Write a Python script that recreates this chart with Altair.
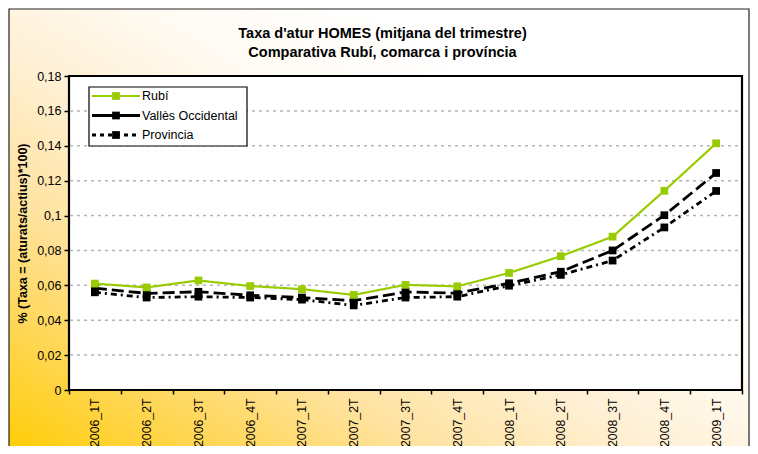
import altair as alt
import pandas as pd

quarters = ["2006_1T", "2006_2T", "2006_3T", "2006_4T", "2007_1T", "2007_2T", "2007_3T",
            "2007_4T", "2008_1T", "2008_2T", "2008_3T", "2008_4T", "2009_1T"]
rubi = [0.0610, 0.0588, 0.0628, 0.0596, 0.0578, 0.0545, 0.0603, 0.0594, 0.0671, 0.0767, 0.0879, 0.1142, 0.1414]
valles = [0.0584, 0.0554, 0.0563, 0.0543, 0.0530, 0.0512, 0.0562, 0.0555, 0.0612, 0.0678, 0.0800, 0.1002, 0.1244]
provincia = [0.0560, 0.0530, 0.0535, 0.0530, 0.0518, 0.0485, 0.0530, 0.0535, 0.0598, 0.0660, 0.0742, 0.0932, 0.1141]
series_names = ["Rubí", "Vallès Occidental", "Provincia"]
y_ticks = [0, 0.02, 0.04, 0.06, 0.08, 0.1, 0.12, 0.14, 0.16, 0.18]
grid_vals = [0.02, 0.04, 0.06, 0.08, 0.1, 0.12, 0.14, 0.16]
title_lines = ["Taxa d'atur HOMES (mitjana del trimestre)", "Comparativa Rubí, comarca i província"]
y_title = "% (Taxa = (aturats/actius)*100)"

W, H = 673, 314
FONT = "Arial, Liberation Sans, sans-serif"

styles = {
    "Rubí": dict(color="#99CC00", width=2.2, dash=[1, 0], ldash=[1, 0]),
    "Vallès Occidental": dict(color="#000000", width=2.8, dash=[12, 5], ldash=[1, 0]),
    "Provincia": dict(color="#000000", width=2.8, dash=[6, 4, 2, 4], ldash=[4, 4]),
}
values = {"Rubí": rubi, "Vallès Occidental": valles, "Provincia": provincia}

one = pd.DataFrame({"a": [0]})

bg = alt.Chart(one).mark_rect(
    fill=alt.LinearGradient(
        gradient="linear", x1=0, y1=1, x2=1, y2=0,
        stops=[
            alt.GradientStop(offset=0, color="#FFCC00"),
            alt.GradientStop(offset=0.15, color="#FFD652"),
            alt.GradientStop(offset=0.3, color="#FFE3A2"),
            alt.GradientStop(offset=0.45, color="#FFF0D4"),
            alt.GradientStop(offset=0.6, color="#FFFBF4"),
            alt.GradientStop(offset=0.75, color="#FFFFFF"),
            alt.GradientStop(offset=1, color="#FFFFFF"),
        ],
    ),
    stroke="#222222", strokeWidth=1.2,
).encode(x=alt.value(-60), x2=alt.value(680), y=alt.value(-67), y2=alt.value(385))

plot_bg = alt.Chart(one).mark_rect(fill="white", stroke="black", strokeWidth=2.2).encode(
    x=alt.value(0), x2=alt.value(W), y=alt.value(0), y2=alt.value(H)
)

x_enc = alt.X(
    "quarter:N", sort=quarters, title=None,
    scale=alt.Scale(type="band", paddingInner=0, paddingOuter=0, domain=quarters),
    axis=alt.Axis(labelAngle=-90, tickBand="extent", labelFontSize=12.3, labelFont=FONT,
                  labelColor="black", tickColor="black", tickSize=4, tickWidth=1.5,
                  labelPadding=4, domain=False, grid=False, zindex=1),
)
y_enc = alt.Y(
    "value:Q", title=y_title,
    scale=alt.Scale(domain=[0, 0.18], nice=False),
    axis=alt.Axis(values=y_ticks, labelExpr="replace(format(datum.value, '~g'), '.', ',')",
                  labelFontSize=12.5, labelFont=FONT, labelColor="black",
                  tickColor="black", tickSize=5, tickWidth=1.5, labelPadding=3,
                  domain=False, grid=False, zindex=1,
                  titleFont=FONT, titleFontSize=12.5, titleFontWeight="bold",
                  titleColor="black", titlePadding=7),
)

grid = alt.Chart(pd.DataFrame({"value": grid_vals})).mark_rule(
    color="#B4B4B4", strokeDash=[3, 4], strokeWidth=1.5
).encode(y=y_enc, x=alt.value(1), x2=alt.value(W - 1))

layers = [bg, plot_bg, grid]
for name in ["Provincia", "Vallès Occidental", "Rubí"]:
    st = styles[name]
    df = pd.DataFrame({"quarter": quarters, "value": values[name]})
    base = alt.Chart(df).encode(x=x_enc, y=y_enc)
    layers.append(base.mark_line(color=st["color"], strokeWidth=st["width"], strokeDash=st["dash"]))
    layers.append(base.mark_point(shape="square", filled=True, size=60, color=st["color"], opacity=1))

# legend
layers.append(alt.Chart(one).mark_rect(fill="white", stroke="black", strokeWidth=1.2).encode(
    x=alt.value(20), x2=alt.value(178), y=alt.value(11), y2=alt.value(70)))
for i, name in enumerate(series_names):
    st = styles[name]
    yy = 20 + i * 19.5
    layers.append(alt.Chart(one).mark_rule(color=st["color"], strokeWidth=st["width"],
                                           strokeDash=st["ldash"]).encode(
        x=alt.value(23), x2=alt.value(71), y=alt.value(yy)))
    layers.append(alt.Chart(one).mark_point(shape="square", filled=True, size=60, color=st["color"],
                                            opacity=1).encode(x=alt.value(47), y=alt.value(yy)))
    layers.append(alt.Chart(one).mark_text(text=name, align="left", baseline="middle", font=FONT,
                                           fontSize=12.5, color="black").encode(
        x=alt.value(73), y=alt.value(yy)))

# title as text marks
for j, line in enumerate(title_lines):
    layers.append(alt.Chart(one).mark_text(text=line, align="center", baseline="alphabetic", font=FONT,
                                           fontSize=14.5, fontWeight="bold", color="black").encode(
        x=alt.value(W / 2 - 23), y=alt.value(-38 + j * 19)))

chart = alt.layer(*layers).properties(
    width=W, height=H,
    autosize=alt.AutoSizeParams(type="none"),
    padding={"left": 61, "top": 68, "right": 8, "bottom": 56},
).configure_view(stroke=None)

chart.save("out.html", embed_options={"renderer": "svg", "actions": False})
